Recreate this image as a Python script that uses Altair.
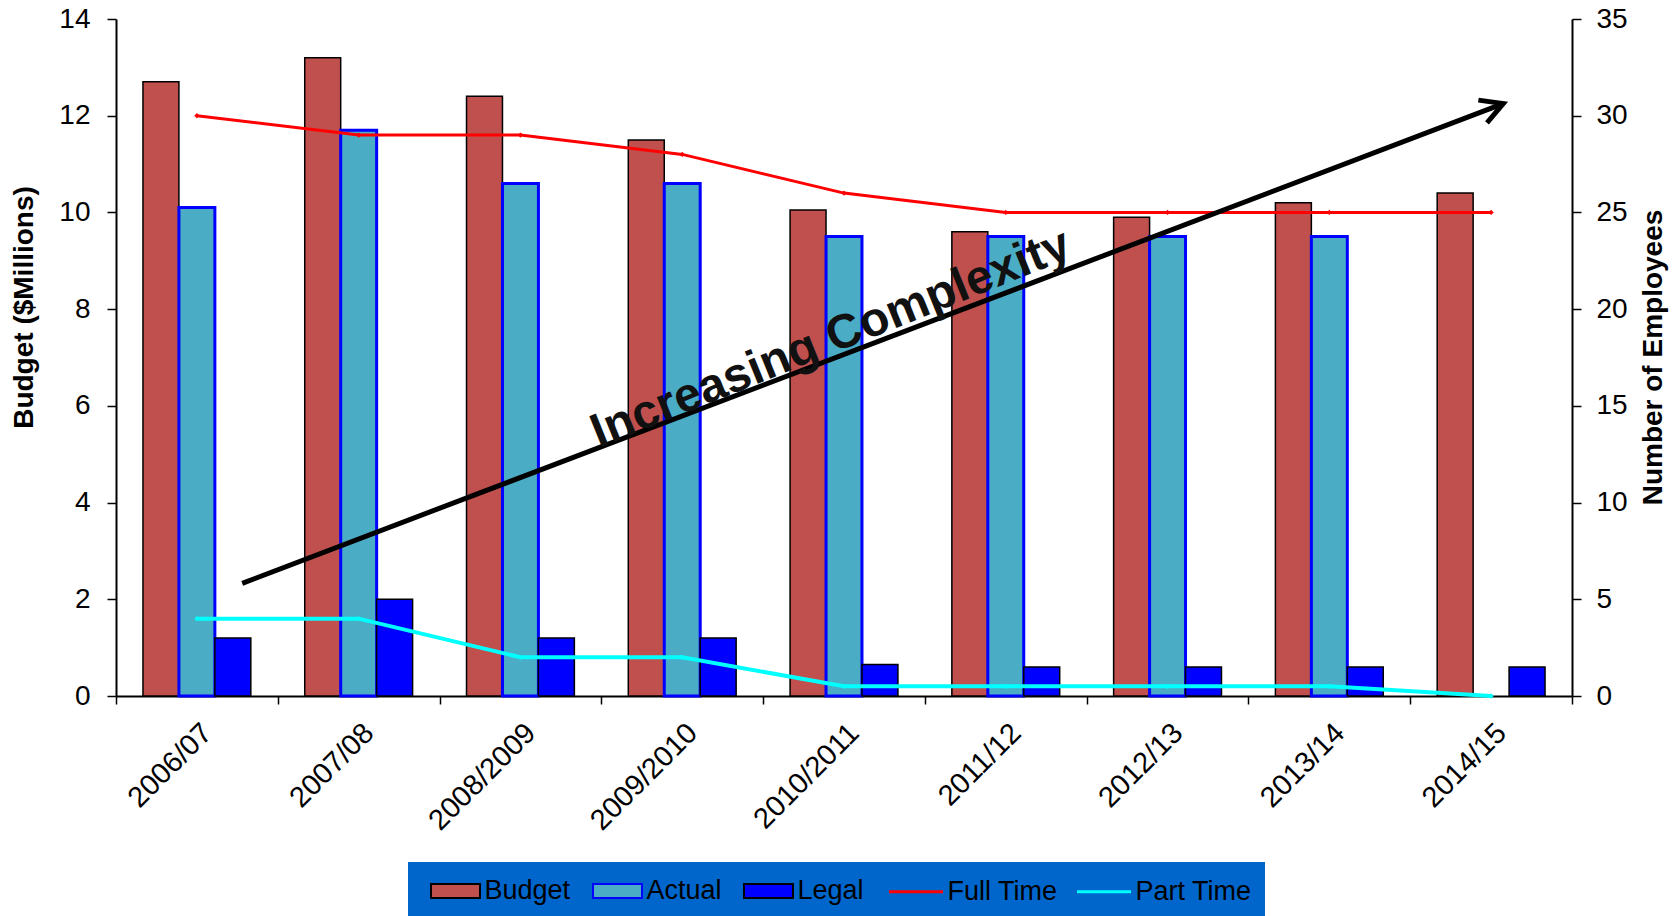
import altair as alt
import pandas as pd

FONT = "Liberation Sans, Arial, sans-serif"

categories = ["2006/07", "2007/08", "2008/2009", "2009/2010", "2010/2011",
              "2011/12", "2012/13", "2013/14", "2014/15"]
budget = [12.7, 13.2, 12.4, 11.5, 10.05, 9.6, 9.9, 10.2, 10.4]
actual = [10.1, 11.7, 10.6, 10.6, 9.5, 9.5, 9.5, 9.5, None]
legal = [1.2, 2.0, 1.2, 1.2, 0.65, 0.6, 0.6, 0.6, 0.6]
full_time = [30, 29, 29, 28, 26, 25, 25, 25, 25]
part_time = [4, 4, 2, 2, 0.5, 0.5, 0.5, 0.5, 0]

bar_series = ["Budget", "Actual", "Legal"]
bar_fill = ["#C0504D", "#4BACC6", "#0000FF"]
bar_stroke = ["#000000", "#0000FF", "#000000"]
line_series = ["Full Time", "Part Time"]
line_colors = ["#FF0000", "#00FFFF"]

# annotation (in category units on x, $M units on y)
arrow_start = [0.78, 2.33]
arrow_end = [8.575, 12.25]
note_text = ["Increasing Complexity"]
note_pos = [4.42, 7.38]

rows = []
for s, vals in zip(bar_series, [budget, actual, legal]):
    for c, v in zip(categories, vals):
        if v is not None:
            rows.append({"period": c, "series": s, "value": v})
bars_df = pd.DataFrame(rows)

lrows = []
for s, vals in zip(line_series, [full_time, part_time]):
    for c, v in zip(categories, vals):
        lrows.append({"period": c, "line": s, "employees": v})
lines_df = pd.DataFrame(lrows)

arrow_df = pd.DataFrame({"x": [arrow_start[0]], "y": [arrow_start[1]],
                         "x2": [arrow_end[0]], "y2": [arrow_end[1]]})
note_df = pd.DataFrame({"x": [note_pos[0]], "y": [note_pos[1]], "label": note_text})

band_scale = alt.Scale(domain=categories, paddingInner=0, paddingOuter=0)
q_x = alt.Scale(domain=[0, len(categories)], nice=False, zero=False)
y_left = alt.Scale(domain=[0, 14], nice=False, zero=True)

BAR_PATH = "M-1.633,-0.467H1.633V0.467H-1.633Z"
bar_legend = alt.Legend(
    title=None, orient="none", legendX=292, legendY=843, direction="horizontal",
    fillColor="#0066CC", padding=13, symbolType=BAR_PATH, symbolSize=900,
    symbolStrokeWidth=2, symbolOffset=18.5, labelOffset=13, columnPadding=12,
    labelFont=FONT, labelFontSize=27, labelColor="black", labelLimit=0,
)
line_legend = alt.Legend(
    title=None, orient="none", legendX=760, legendY=843, direction="horizontal",
    fillColor="#0066CC", padding=13, symbolType="M-1.8,0H1.8", symbolSize=900,
    symbolStrokeWidth=3, symbolOffset=10.5, labelOffset=15, columnPadding=13,
    labelFont=FONT, labelFontSize=27, labelColor="black", labelLimit=0,
)

bars = alt.Chart(bars_df).mark_bar().encode(
    x=alt.X("period:N", sort=categories, scale=band_scale,
            axis=alt.Axis(title=None, labelAngle=315, labelFont=FONT, labelFontSize=29,
                          labelColor="black", tickBand="extent", tickSize=8,
                          tickWidth=1.5, tickColor="black", labelPadding=14,
                          domainColor="black", domainWidth=2, grid=False)),
    xOffset=alt.XOffset("series:N", sort=bar_series,
                        scale=alt.Scale(domain=bar_series, paddingInner=0, paddingOuter=0.75)),
    y=alt.Y("value:Q", scale=y_left,
            axis=alt.Axis(title="Budget ($Millions)", orient="left",
                          values=[0, 2, 4, 6, 8, 10, 12, 14], grid=False,
                          labelFont=FONT, labelFontSize=28, labelColor="black",
                          labelPadding=17, tickSize=9, tickWidth=1.5, tickColor="black",
                          domainColor="black", domainWidth=2,
                          titleFont=FONT, titleFontSize=28, titleFontWeight="bold",
                          titleColor="black", titleAngle=270, titleAlign="center",
                          titleBaseline="middle", titleX=-92, titleY=288)),
    fill=alt.Fill("series:N", sort=bar_series,
                  scale=alt.Scale(domain=bar_series, range=bar_fill), legend=bar_legend),
    stroke=alt.Stroke("series:N", sort=bar_series,
                      scale=alt.Scale(domain=bar_series, range=bar_stroke), legend=bar_legend),
    strokeWidth=alt.when("datum.series == 'Actual'").then(alt.value(3)).otherwise(alt.value(1.5)),
)

lines = alt.Chart(lines_df).mark_line(
    point=alt.OverlayMarkDef(filled=True, size=28, shape="diamond")
).encode(
    x=alt.X("period:N", sort=categories, scale=band_scale, axis=None),
    y=alt.Y("employees:Q", scale=alt.Scale(domain=[0, 35], nice=False, zero=True),
            axis=alt.Axis(title="Number of Employees", orient="right",
                          values=[0, 5, 10, 15, 20, 25, 30, 35], grid=False,
                          labelFont=FONT, labelFontSize=28, labelColor="black",
                          labelPadding=15, tickSize=9, tickWidth=1.5, tickColor="black",
                          domainColor="black", domainWidth=2,
                          titleFont=FONT, titleFontSize=28, titleFontWeight="bold",
                          titleColor="black", titleAngle=270, titleAlign="center",
                          titleBaseline="middle", titleX=81, titleY=338)),
    color=alt.Color("line:N", sort=line_series,
                    scale=alt.Scale(domain=line_series, range=line_colors), legend=line_legend),
    strokeWidth=alt.when("datum.line == 'Part Time'").then(alt.value(4)).otherwise(alt.value(3)),
)

arrow = alt.Chart(arrow_df).mark_rule(strokeWidth=5, color="black").encode(
    x=alt.X("x:Q", scale=q_x, axis=None), x2="x2:Q",
    y=alt.Y("y:Q", scale=y_left, axis=None), y2="y2:Q",
)

head = alt.Chart(arrow_df).mark_point(
    shape="M-1,-0.55L0,0L-1,0.55", size=1936, angle=339.15, filled=False,
    strokeWidth=5, color="black", opacity=1, strokeJoin="miter",
).encode(
    x=alt.X("x2:Q", scale=q_x, axis=None),
    y=alt.Y("y2:Q", scale=y_left, axis=None),
)

note = alt.Chart(note_df).mark_text(
    angle=338, fontSize=48, fontWeight="bold", font=FONT, color="#111111",
    align="center", baseline="middle",
).encode(
    x=alt.X("x:Q", scale=q_x, axis=None),
    y=alt.Y("y:Q", scale=y_left, axis=None),
    text="label:N",
)

chart = alt.layer(bars, lines, arrow, head, note).resolve_scale(
    x="independent", y="independent"
).properties(
    width=1456, height=677,
    autosize=alt.AutoSizeParams(type="none"),
    padding={"left": 116, "top": 19, "right": 108, "bottom": 220},
    background="white",
).configure_view(strokeWidth=0)

chart.save("out.html", embed_options={"renderer": "svg", "actions": False})
